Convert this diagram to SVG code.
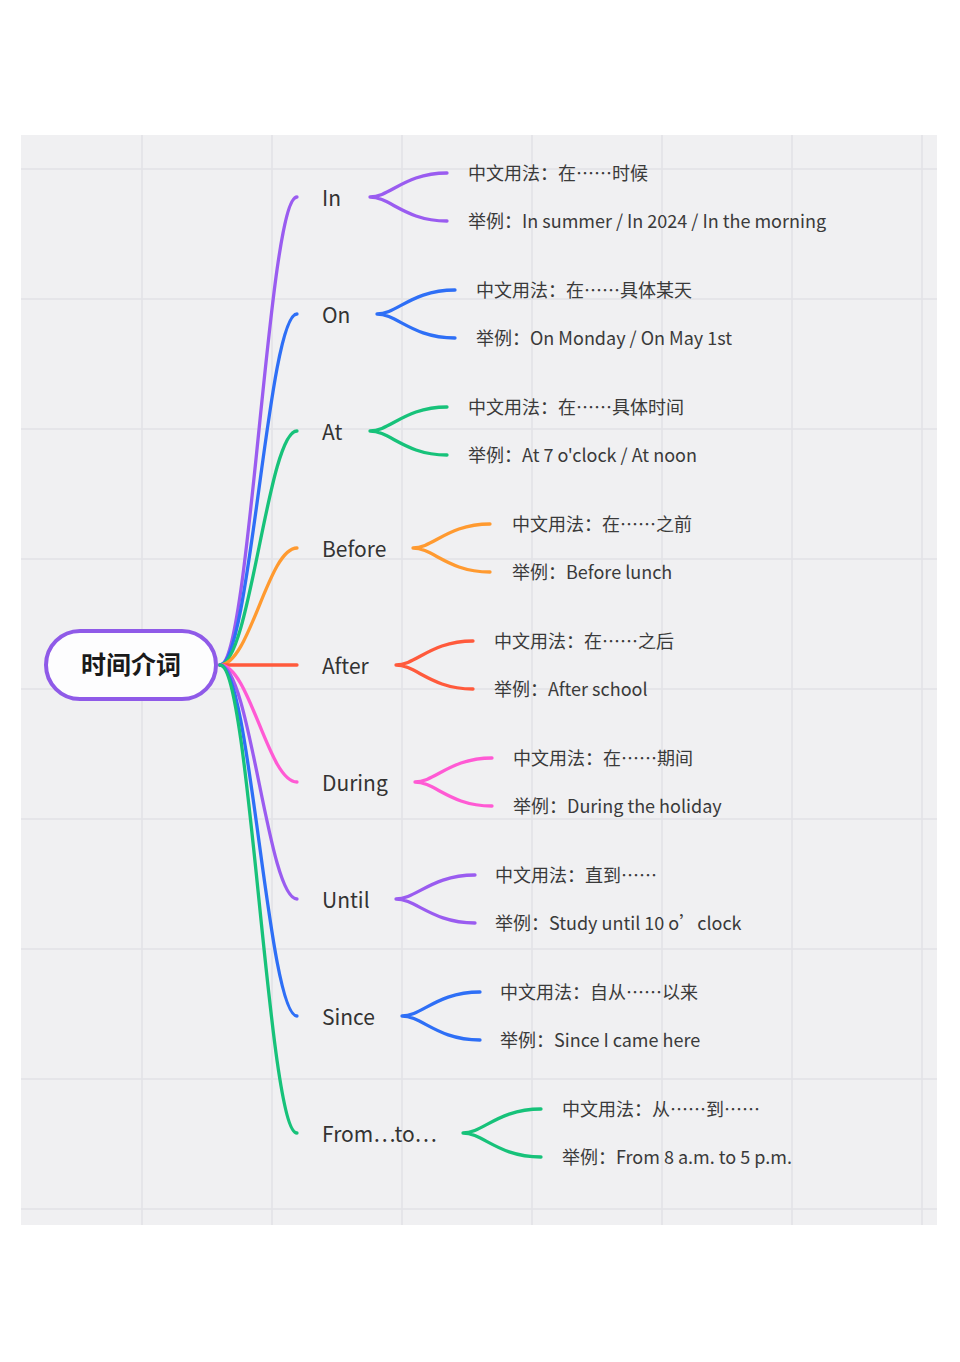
<svg xmlns="http://www.w3.org/2000/svg" width="960" height="1362" viewBox="0 0 960 1362">
<style>
.grid line{stroke:#e2e2e6;stroke-width:1.5}
.br{fill:none;stroke-width:3.3;stroke-linecap:round}
.lbl{font-family:"Noto Sans CJK SC","Noto Sans",sans-serif;font-size:21px;fill:#333}
.sub{font-family:"Noto Sans CJK SC","Noto Sans",sans-serif;font-size:18px;fill:#3a3a3a}
.root{font-family:"Noto Sans CJK SC","Noto Sans",sans-serif;font-size:25px;font-weight:bold;fill:#1a1a1a}
.purple{stroke:#9a5cf0}.blue{stroke:#2e6ff6}.green{stroke:#17c27a}.orange{stroke:#ff9a30}.red{stroke:#ff5a3c}.pink{stroke:#ff5ad4}
</style>
<rect width="960" height="1362" fill="#ffffff"/>
<rect x="21" y="135" width="916" height="1090" fill="#f0f0f2"/>
<g class="grid">
<line x1="142" y1="135" x2="142" y2="1225"/><line x1="272" y1="135" x2="272" y2="1225"/><line x1="402" y1="135" x2="402" y2="1225"/><line x1="532" y1="135" x2="532" y2="1225"/><line x1="662" y1="135" x2="662" y2="1225"/><line x1="792" y1="135" x2="792" y2="1225"/><line x1="922" y1="135" x2="922" y2="1225"/>
<line x1="21" y1="169" x2="937" y2="169"/><line x1="21" y1="299" x2="937" y2="299"/><line x1="21" y1="429" x2="937" y2="429"/><line x1="21" y1="559" x2="937" y2="559"/><line x1="21" y1="689" x2="937" y2="689"/><line x1="21" y1="819" x2="937" y2="819"/><line x1="21" y1="949" x2="937" y2="949"/><line x1="21" y1="1079" x2="937" y2="1079"/><line x1="21" y1="1209" x2="937" y2="1209"/>
</g>
<g id="connectors">
<path class="br purple" d="M220,665 C250,665 268,197 297,197"/>
<path class="br blue" d="M220,665 C250,665 268,314 297,314"/>
<path class="br green" d="M220,665 C250,665 268,431 297,431"/>
<path class="br orange" d="M220,665 C250,665 268,548 297,548"/>
<path class="br red" d="M220,665 L297,665"/>
<path class="br pink" d="M220,665 C250,665 268,782 297,782"/>
<path class="br purple" d="M220,665 C250,665 268,899 297,899"/>
<path class="br blue" d="M220,665 C250,665 268,1016 297,1016"/>
<path class="br green" d="M220,665 C250,665 268,1133 297,1133"/>
<path class="br purple" d="M370,197 C390,197 405,173 447,173 M370,197 C390,197 405,221 447,221"/>
<path class="br blue" d="M377,314 C397,314 412,290 455,290 M377,314 C397,314 412,338 455,338"/>
<path class="br green" d="M370,431 C390,431 405,407 447,407 M370,431 C390,431 405,455 447,455"/>
<path class="br orange" d="M413,548 C433,548 448,524 490,524 M413,548 C433,548 448,572 490,572"/>
<path class="br red" d="M396,665 C416,665 431,641 473,641 M396,665 C416,665 431,689 473,689"/>
<path class="br pink" d="M415,782 C435,782 450,758 492,758 M415,782 C435,782 450,806 492,806"/>
<path class="br purple" d="M396,899 C416,899 432,875 475,875 M396,899 C416,899 432,923 475,923"/>
<path class="br blue" d="M402,1016 C422,1016 437,992 480,992 M402,1016 C422,1016 437,1040 480,1040"/>
<path class="br green" d="M463,1133 C483,1133 498,1109 541,1109 M463,1133 C483,1133 498,1157 541,1157"/>
</g>
<g id="root">
<rect x="46" y="631" width="170" height="68" rx="34" fill="#fdfdfe" stroke="#8f5ae8" stroke-width="4"/>
<text class="root" x="131" y="674" text-anchor="middle">时间介词</text>
</g>
<g id="n-in"><text class="lbl" x="322" y="206">In</text></g>
<g id="n-in-1"><text class="sub" x="468" y="180">中文用法：在……时候</text></g>
<g id="n-in-2"><text class="sub" x="468" y="228">举例：In summer / In 2024 / In the morning</text></g>
<g id="n-on"><text class="lbl" x="322" y="323">On</text></g>
<g id="n-on-1"><text class="sub" x="476" y="297">中文用法：在……具体某天</text></g>
<g id="n-on-2"><text class="sub" x="476" y="345">举例：On Monday / On May 1st</text></g>
<g id="n-at"><text class="lbl" x="322" y="440">At</text></g>
<g id="n-at-1"><text class="sub" x="468" y="414">中文用法：在……具体时间</text></g>
<g id="n-at-2"><text class="sub" x="468" y="462">举例：At 7 o'clock / At noon</text></g>
<g id="n-before"><text class="lbl" x="322" y="557">Before</text></g>
<g id="n-before-1"><text class="sub" x="512" y="531">中文用法：在……之前</text></g>
<g id="n-before-2"><text class="sub" x="512" y="579">举例：Before lunch</text></g>
<g id="n-after"><text class="lbl" x="322" y="674">After</text></g>
<g id="n-after-1"><text class="sub" x="494" y="648">中文用法：在……之后</text></g>
<g id="n-after-2"><text class="sub" x="494" y="696">举例：After school</text></g>
<g id="n-during"><text class="lbl" x="322" y="791">During</text></g>
<g id="n-during-1"><text class="sub" x="513" y="765">中文用法：在……期间</text></g>
<g id="n-during-2"><text class="sub" x="513" y="813">举例：During the holiday</text></g>
<g id="n-until"><text class="lbl" x="322" y="908">Until</text></g>
<g id="n-until-1"><text class="sub" x="495" y="882">中文用法：直到……</text></g>
<g id="n-until-2"><text class="sub" x="495" y="930">举例：Study until 10 o’clock</text></g>
<g id="n-since"><text class="lbl" x="322" y="1025">Since</text></g>
<g id="n-since-1"><text class="sub" x="500" y="999">中文用法：自从……以来</text></g>
<g id="n-since-2"><text class="sub" x="500" y="1047">举例：Since I came here</text></g>
<g id="n-from"><text class="lbl" x="322" y="1142">From…to…</text></g>
<g id="n-from-1"><text class="sub" x="562" y="1116">中文用法：从……到……</text></g>
<g id="n-from-2"><text class="sub" x="562" y="1164">举例：From 8 a.m. to 5 p.m.</text></g>
</svg>
